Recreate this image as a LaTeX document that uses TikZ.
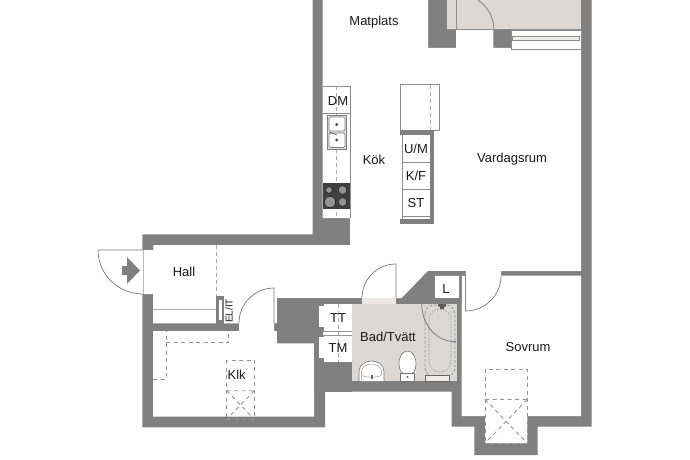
\documentclass[tikz,border=0pt]{standalone}
\usepackage{fontspec}
\setmainfont{Liberation Sans}
\definecolor{wall}{HTML}{808080}
\definecolor{floorb}{HTML}{DDD8D3}
\definecolor{thin}{HTML}{8C8C8C}
\definecolor{arcc}{HTML}{777777}
\definecolor{dash}{HTML}{949494}
\definecolor{stove}{HTML}{3E3E3E}
\tikzset{
  lbl/.style={font=\fontsize{13}{15}\selectfont,text=black!90,inner sep=0pt},
  thinline/.style={draw=thin,line width=0.7pt},
  doorarc/.style={draw=arcc,line width=0.7pt},
  dashline/.style={draw=dash!80!white,line width=0.9pt,dash pattern=on 4pt off 3pt},
  xdash/.style={draw=dash,line width=0.9pt,dash pattern=on 4pt off 3.5pt},
}
\begin{document}
\begin{tikzpicture}[x=1pt,y=-1pt]
\useasboundingbox (0,0) rectangle (690,460);
\clip (0,0) rectangle (690,460);
\fill[white] (0,0) rectangle (690,460);
% outer
\fill[wall] (312.5,0)--(312.5,234.3)--(142.3,234.3)--(142.3,427.3)--(325,427.3)--(325,391.7)--(451.7,391.7)--(451.7,426.7)--(474.3,426.7)--(474.3,455)--(537.7,455)--(537.7,426.7)--(591.7,426.7)--(591.7,0)--cycle;
% interior
\fill[white] (322.7,0)--(322.7,218)--(350,218)--(350,245)--(153.3,245)--(153.3,250)--(142,250)--(142,294)--(153,294)--(153,323.3)--(239,323.3)--(239,331)--(153,331)--(153,416.7)--(314,416.7)--(314,343.3)--(277.3,343.3)--(277.3,331)--(274,331)--(274,323)--(277.3,323)--(277.3,298.3)--(401.7,298.3)--(428,271)--(465.7,271)--(465.7,275.7)--(461.7,275.7)--(461.7,416)--(485,416)--(485,443.3)--(527.3,443.3)--(527.3,416)--(581,416)--(581,275.7)--(501,275.7)--(501,271)--(581,271)--(581,30)--(511,30)--(511,48)--(493.3,48)--(493.3,30)--(456,30)--(456,48)--(428,48)--(428,0)--cycle;
% wall strip with L closet and diagonal
\fill[wall] (277.3,298.3)--(361.7,298.3)--(361.7,304)--(277.3,304)--cycle;
\fill[wall] (396,298.3)--(401.7,298.3)--(428,271)--(465.7,271)--(465.7,275.7)--(461.7,275.7)--(461.7,304)--(396,304)--cycle;
\fill[white] (435,275.7) rectangle (459.5,298.3);
\draw[thinline] (435,275.7)--(459.5,275.7)--(459.5,298.3);
\draw[thinline] (465.3,271)--(465.3,311);
\fill[wall] (277.3,304) rectangle (319,343.3);
\fill[wall] (314,343.3) rectangle (352,392);
\fill[wall] (319,304) rectangle (352,362);
% beige rooms
\fill[floorb] (447,0) rectangle (581,29);
\draw[thinline] (456,0)--(456,30) (447,29.5)--(581,29.5);
\fill[floorb] (352,304) rectangle (456.7,381);
\fill[floorb!60!white] (361.7,298.3) rectangle (396,304);
% top door and window
\draw[doorarc] (478,0) .. controls (488,7) and (494,18) .. (494,30);
\fill[white] (511,30) rectangle (581,50);
\draw[thinline] (511,30)--(581,30) (511,49.7)--(581,49.7) (511,30)--(511,49.7) (581,30)--(581,49.7);
\draw[thinline,fill=floorb!50!white] (512,36.7) rectangle (579.5,40.7);
% doors
\draw[doorarc] (143,250)--(98,250) .. controls (98,274.6) and (118.4,294) .. (143,294);
\draw[draw=thin!60!white,line width=0.5pt] (143,250)--(143,294);
\draw[doorarc] (239,323) .. controls (239,303.7) and (254.7,288) .. (274,288)--(274,323);
\draw[doorarc] (362,298) .. controls (362,279.2) and (377.2,264) .. (396,264)--(396,298);
\draw[doorarc] (465.3,311) .. controls (484.9,311) and (501,295.5) .. (501,276);
% entry arrow
\fill[wall] (122,266)--(127,266)--(127,257)--(140,270.5)--(127,284)--(127,275)--(122,275)--cycle;
% hall
\draw[dashline] (216.7,245)--(216.7,296);
\draw[draw=thin!70!white,line width=1pt] (153,309)--(217,309);
\fill[wall] (216,296) rectangle (223.5,323.5);
\fill[white] (218.5,300) rectangle (222,320);
% klk dashes
\draw[xdash] (153,379.3)--(166,379.3)--(166,331);
\draw[xdash] (166,342.7)--(228.3,342.7)--(228.3,331);
\draw[xdash] (226.7,360) rectangle (254.3,419.3);
\draw[xdash] (226.7,390.7)--(254.3,390.7) (226.7,390.7)--(254.3,419.3) (254.3,390.7)--(226.7,419.3);
% sovrum dashes
\draw[xdash] (485,369.3) rectangle (527.3,443.3);
\draw[xdash] (485,399.3)--(527.3,399.3) (485,399.3)--(527.3,443.3) (527.3,399.3)--(485,443.3);
% kitchen counter
\draw[thinline] (322.7,86)--(350,86)--(350,218) (322.7,113)--(350,113);
\draw[dashline] (336.7,86)--(336.7,218);
\fill[stove] (322.7,182.7) rectangle (350,209.3);
\foreach \cx/\cy/\r in {329/190/4,342.5/190/5,330/202/6.3,342.5/202/5}{
  \fill[wall!85!white] (\cx,\cy) circle (\r);
  \draw[black!85,line width=0.9pt] (\cx,\cy) circle ({\r-0.5});
}
\draw[thinline] (322.7,218)--(350,218);
\fill[white] (327.3,115) rectangle (346.7,149.3);
\draw[draw=wall,fill=black!12,line width=1pt] (327.3,115) rectangle (346.7,149.3);
\draw[draw=wall,fill=white,line width=0.7pt,rounded corners=1.5pt] (329,117) rectangle (345,131);
\draw[draw=wall,fill=white,line width=0.7pt,rounded corners=1.5pt] (329,133) rectangle (345,147.5);
\fill[black!70] (336.7,124.5) circle (1.7) (336.7,140) circle (1.7);
\draw[black!65,line width=0.7pt] (329,132)--(337,135);
% island
\draw[thinline] (400.3,84.7) rectangle (439.3,130);
\draw[dashline] (430,84.7)--(430,130);
\fill[wall] (400.3,130) rectangle (434.3,135);
\fill[wall] (430,130) rectangle (434.3,224);
\fill[wall] (400.3,219.3) rectangle (434.3,224);
\draw[thinline] (402.7,135)--(402.7,219.3) (402.7,162)--(430,162) (402.7,189.3)--(430,189.3) (402.7,216)--(430,216);
% TT/TM cabinets
\fill[white] (324,304) rectangle (352,331);
\fill[white] (324,336) rectangle (352,362);
\fill[white] (319,306) rectangle (324,327);
\fill[white] (319,337) rectangle (324,358);
\fill[white] (323,331.5) rectangle (352,335.5);
\draw[dashline] (338,304)--(338,362);
\draw[draw=dash,line width=0.5pt] (323,331.5)--(352,331.5) (323,335.5)--(352,335.5);
% bath fixtures
\draw[draw=black!55,fill=white,line width=0.6pt] (359,381)--(359,372) .. controls (359,365) and (365,361) .. (371.5,361) .. controls (378,361) and (384,365) .. (384,372)--(384,381);
\draw[draw=black!40,line width=0.5pt] (361.5,381)--(361.5,372) .. controls (361.5,367) and (366,364) .. (371.5,364) .. controls (377,364) and (381.5,367) .. (381.5,372)--(381.5,375) .. controls (378,378) and (365,378) .. (361.5,375);
\fill[black!60] (370.5,375) rectangle (372.5,379);
\draw[draw=black!55,fill=white,line width=0.6pt] (399,364) .. controls (399,356) and (403,351) .. (407.5,351) .. controls (412,351) and (416,356) .. (416,364) .. controls (416,370) and (413,375) .. (407.5,375) .. controls (402,375) and (399,370) .. (399,364)--cycle;
\draw[draw=black!55,fill=white,line width=0.6pt] (400.7,373) rectangle (414,381);
\fill[black!60] (407.5,377) circle (1.2);
\draw[draw=dash,line width=0.8pt,dash pattern=on 2.5pt off 2pt,rounded corners=9pt] (425,305) rectangle (455,376.7);
\draw[draw=dash,line width=0.6pt,dash pattern=on 1.5pt off 1.5pt,rounded corners=11pt] (429,309) rectangle (451,372);
\draw[draw=black!55,line width=0.7pt] (421.7,304) .. controls (422,325) and (436,341.7) .. (456,341.7);
\fill[black!60] (454.5,341.7) circle (1);
\draw[draw=black!60,fill=floorb!50!white,line width=0.6pt] (425,375.5) rectangle (449,381);
\fill[black!65] (438,304) rectangle (446,306.5) (440,306.5) rectangle (444,309);
% texts
\node[lbl] (matplats) at (374,22.5) {Matplats};
\node[lbl] (kok) at (374,160) {Kök};
\node[lbl] (vardagsrum) at (512,159) {Vardagsrum};
\node[lbl] (hall) at (184,272) {Hall};
\node[lbl] (dm) at (338,101) {DM};
\node[lbl] (um) at (416,149) {U/M};
\node[lbl] (kf) at (416,176) {K/F};
\node[lbl] (st) at (416,203) {ST};
\node[lbl] (l) at (446,289) {L};
\node[lbl] (tt) at (338,318) {TT};
\node[lbl] (tm) at (338,348) {TM};
\node[lbl] (bad) at (388,337) {Bad/Tvätt};
\node[lbl] (klk) at (236.7,375) {Klk};
\node[lbl] (sovrum) at (528,347) {Sovrum};
\node[lbl,rotate=90,font=\fontsize{10}{11}\selectfont] (elit) at (229,311) {EL/IT};
\end{tikzpicture}
\end{document}
